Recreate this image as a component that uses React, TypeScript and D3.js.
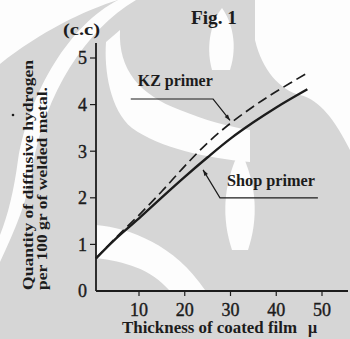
import { useEffect, useRef } from 'react'
import * as d3 from 'd3'

// film thickness (μ) sampled along both curves
const thickness = [0.6, 5, 10, 15, 20, 25, 30, 35, 40, 46.8]
const shopPrimer = [0.7, 1.13, 1.56, 2.01, 2.45, 2.87, 3.27, 3.62, 3.94, 4.33]
const kzPrimer = [0.7, 1.15, 1.63, 2.14, 2.68, 3.18, 3.6, 3.96, 4.28, 4.68]

const xTicks = [10, 20, 30, 40, 50]
const yTicks = [0, 1, 2, 3, 4, 5]

// leader lines for the curve labels, in data units
const kzLeader: [number, number][] = [[8.2, 4.12], [26.2, 4.12], [29.9, 3.66]]
const shopLeader: [number, number][] = [[49.1, 2.0], [27.7, 2.0], [24.0, 2.6]]

// rough shapes of the faint watermark behind the scan
const watermark = [
  'M0,0 H118 C85,10 40,32 0,64 Z',
  'M118,0 C70,25 30,90 18,160 C14,190 8,215 0,235 V262 C15,230 28,200 33,165 C45,95 85,30 136,0 Z',
  'M120,30 C118,70 140,95 180,110 C205,120 225,126 250,130 L250,162 C205,158 160,148 132,128 C110,110 104,70 106,42 Z',
  'M212,70 C205,45 212,20 222,8 C232,22 238,45 230,70 Z',
  'M255,0 H350 V150 C335,120 320,100 300,95 C280,90 262,70 255,40 Z',
  'M232,250 C222,220 222,185 240,150 C258,185 258,220 248,250 Z',
  'M96,225 C130,228 175,245 205,290 L170,291 C150,268 125,262 96,258 Z',
]

export default function App() {
  const ref = useRef<SVGSVGElement>(null)

  useEffect(() => {
    document.body.style.margin = '0'
    const svg = d3.select(ref.current)
    svg.selectAll('*').remove()

    const width = 350
    const height = 339
    const ink = '#1c1c1c'
    const font = '"Liberation Serif", "DejaVu Serif", serif'

    const x = d3.scaleLinear().domain([0, 50]).range([93.25, 322])
    const y = d3.scaleLinear().domain([0, 5]).range([291, 58])
    const axisX0 = 96

    svg.append('rect').attr('width', width).attr('height', height).attr('fill', '#d6d6d6')
    svg.selectAll('path.wm').data(watermark).join('path')
      .attr('class', 'wm').attr('d', d => d).attr('fill', '#fdfdfd')

    const defs = svg.append('defs')
    defs.append('marker')
      .attr('id', 'arrow').attr('viewBox', '0 0 10 10')
      .attr('refX', 10).attr('refY', 5)
      .attr('markerWidth', 8).attr('markerHeight', 6)
      .attr('markerUnits', 'userSpaceOnUse')
      .attr('orient', 'auto')
      .append('path').attr('d', 'M0,1.5 L10,5 L0,8.5 Z').attr('fill', ink)

    // axes
    svg.append('line')
      .attr('x1', axisX0).attr('x2', axisX0).attr('y1', 43).attr('y2', y(0))
      .attr('stroke', ink).attr('stroke-width', 1.8)
    svg.append('line')
      .attr('x1', axisX0).attr('x2', 348).attr('y1', y(0)).attr('y2', y(0))
      .attr('stroke', ink).attr('stroke-width', 1.8)

    yTicks.forEach(t => {
      if (t > 0) {
        svg.append('line')
          .attr('x1', axisX0 - 6).attr('x2', axisX0).attr('y1', y(t)).attr('y2', y(t))
          .attr('stroke', ink).attr('stroke-width', 1.2)
      }
      svg.append('text')
        .attr('x', 87).attr('y', y(t)).attr('dy', '0.36em')
        .attr('text-anchor', 'end')
        .style('font-family', font).style('font-size', '18px')
        .style('fill', ink).style('stroke', ink).style('stroke-width', 0.4)
        .text(t)
    })

    xTicks.forEach(t => {
      svg.append('line')
        .attr('x1', x(t)).attr('x2', x(t)).attr('y1', y(0)).attr('y2', y(0) + 5)
        .attr('stroke', ink).attr('stroke-width', 1.2)
      svg.append('text')
        .attr('x', x(t)).attr('y', 316)
        .attr('text-anchor', 'middle')
        .style('font-family', font).style('font-size', '18px')
        .style('fill', ink).style('stroke', ink).style('stroke-width', 0.4)
        .text(t)
    })

    // curves
    const line = d3.line<number>()
      .x((_, i) => x(thickness[i]))
      .y(d => y(d))
      .curve(d3.curveCatmullRom)

    svg.append('path').attr('d', line(kzPrimer))
      .attr('fill', 'none').attr('stroke', ink).attr('stroke-width', 1.7)
      .attr('stroke-dasharray', '10,5')
    svg.append('path').attr('d', line(shopPrimer))
      .attr('fill', 'none').attr('stroke', ink).attr('stroke-width', 2.4)

    const leader = d3.line<[number, number]>().x(d => x(d[0])).y(d => y(d[1]))
    ;[kzLeader, shopLeader].forEach(pts => {
      svg.append('path').attr('d', leader(pts))
        .attr('fill', 'none').attr('stroke', ink).attr('stroke-width', 1.2)
        .attr('marker-end', 'url(#arrow)')
    })

    const label = (txt: string, lx: number, ly: number, size: number, len?: number) => {
      const t = svg.append('text')
        .attr('x', lx).attr('y', ly)
        .style('font-family', font).style('font-size', `${size}px`).style('font-weight', '700')
        .style('fill', ink)
        .text(txt)
      if (len) t.attr('textLength', len).attr('lengthAdjust', 'spacingAndGlyphs')
      return t
    }

    label('KZ primer', x(kzLeader[0][0]) + 7, y(kzLeader[0][1]) - 13, 16, 75)
    label('Shop primer', x(shopLeader[1][0]) + 7, y(shopLeader[1][1]) - 12, 16, 88)
    label('Fig. 1', 191, 24, 18, 46)
    label('(c.c)', 63, 35, 16, 37)
    label('Thickness of coated film', 122, 333, 16, 175)
    label('μ', 308, 333, 16)

    // rotated y-axis title, two lines
    const yTitle = svg.append('g').attr('transform', 'translate(33,290) rotate(-90)')
    yTitle.append('text')
      .attr('x', 0).attr('y', 0)
      .attr('textLength', 230).attr('lengthAdjust', 'spacingAndGlyphs')
      .style('font-family', font).style('font-size', '15px').style('font-weight', '700')
      .style('fill', ink)
      .text('Quantity of diffusive hydrogen')
    yTitle.append('text')
      .attr('x', 0).attr('y', 14)
      .attr('textLength', 203).attr('lengthAdjust', 'spacingAndGlyphs')
      .style('font-family', font).style('font-size', '15px').style('font-weight', '700')
      .style('fill', ink)
      .text('per 100 gr of welded metal.')
    svg.append('circle').attr('cx', 13).attr('cy', 115).attr('r', 1.3).attr('fill', ink)
  }, [])

  return <svg ref={ref} width={350} height={339} style={{ display: 'block' }} />
}
